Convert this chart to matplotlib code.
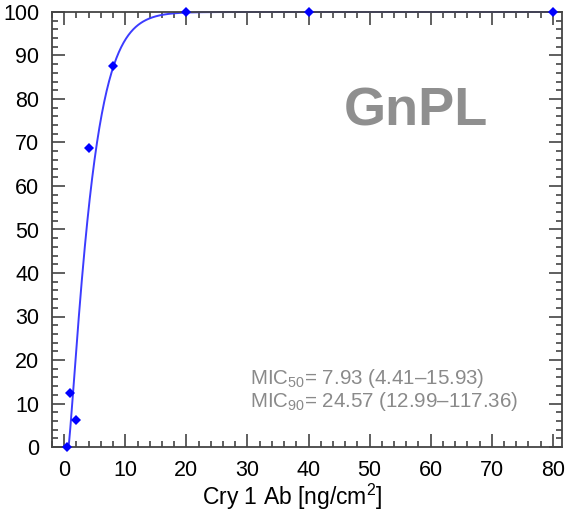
import numpy as np
import matplotlib
matplotlib.use("Agg")
import matplotlib.pyplot as plt
from matplotlib.ticker import MultipleLocator

plt.rcParams['font.family'] = ['Liberation Sans', 'DejaVu Sans']
plt.rcParams['mathtext.fontset'] = 'custom'
plt.rcParams['mathtext.rm'] = 'Liberation Sans'
plt.rcParams['mathtext.it'] = 'Liberation Sans'

# Data
concentration = [0.5, 1, 2, 4, 8, 20, 40, 80]
mortality = [0, 12.5, 6.25, 68.75, 87.5, 100, 100, 100]
# fitted curve parameters (Weibull-type)
fit_x0, fit_scale, fit_shape = 0.7, 4.0, 1.2
mic50 = ("7.93", "4.41", "15.93")
mic90 = ("24.57", "12.99", "117.36")
xticks = [0, 10, 20, 30, 40, 50, 60, 70, 80]
yticks = [0, 10, 20, 30, 40, 50, 60, 70, 80, 90, 100]

fig = plt.figure(figsize=(5.68, 5.14), dpi=100)
ax = fig.add_axes([52/568, 1-447/514, (562-52)/568, (447-12)/514])

xc = np.linspace(fit_x0, 80, 800)
yc = 100*(1-np.exp(-((xc-fit_x0)/fit_scale)**fit_shape))
ax.plot(xc, yc, color='#3c3cff', lw=1.4, clip_on=False, zorder=2)
ax.plot(concentration, mortality, 'D', color='#0000ff', ms=5.5, mew=0,
        clip_on=False, zorder=3)

ax.set_xlim(-2, 81.5)
ax.set_ylim(0, 100)
ax.set_xticks(xticks)
ax.set_yticks(yticks)
ax.xaxis.set_minor_locator(MultipleLocator(2))
ax.yaxis.set_minor_locator(MultipleLocator(2))
ax.tick_params(which='both', direction='in', top=True, right=True,
               color='#444444', width=1.2)
ax.tick_params(which='major', length=9.5, labelsize=15.5)
ax.tick_params(which='minor', length=4)
ax.tick_params(axis='x', which='major', pad=9)
ax.tick_params(axis='y', which='major', pad=9)
for s in ax.spines.values():
    s.set_color('#444444')
    s.set_linewidth(1.3)

fig.text(292/568, 1-505/514, 'Cry 1 Ab [ng/cm$^2$]', ha='center',
         va='baseline', fontsize=16.5)

ax.text(45.7, 74.0, 'GnPL', fontsize=39, fontweight='bold', color='#8f8f8f',
        ha='left', va='baseline')
ax.text(30.4, 14.4, 'MIC$_{50}$= %s (%s\u2013%s)' % mic50, fontsize=14.8,
        color='#8a8a8a', ha='left', va='baseline')
ax.text(30.4, 9.2, 'MIC$_{90}$= %s (%s\u2013%s)' % mic90, fontsize=14.8,
        color='#8a8a8a', ha='left', va='baseline')

fig.savefig('out.png', dpi=100)
